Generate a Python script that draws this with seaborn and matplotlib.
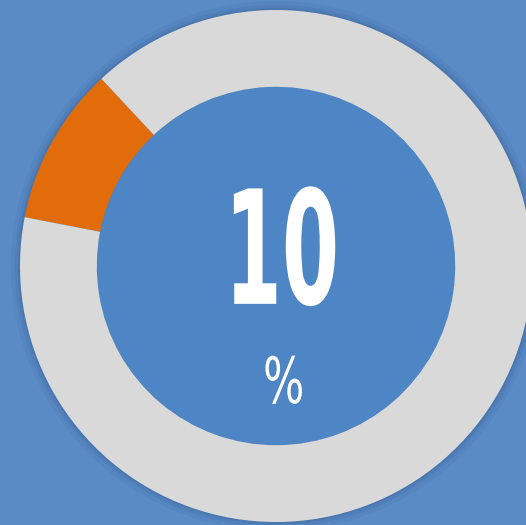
import matplotlib
matplotlib.use("Agg")
import matplotlib.pyplot as plt
import matplotlib.patheffects as pe
from matplotlib.transforms import Affine2D
import seaborn as sns
from matplotlib.patches import Circle

# Values shown in the donut
labels = ["Share", "Rest"]
values = [10, 90]
colors = ["#e36c0a", "#d9d9d9"]
center_label = "10"
unit_label = "%"


# squeeze glyphs horizontally around a given x (display coords) to get a condensed look
class Squeeze(pe.AbstractPathEffect):
    def __init__(self, sx, cx):
        super().__init__()
        self.sx = sx
        self.cx = cx

    def draw_path(self, renderer, gc, tpath, affine, rgbFace=None):
        tr = affine + Affine2D().translate(-self.cx, 0).scale(self.sx, 1).translate(self.cx, 0)
        renderer.draw_path(gc, tpath, tr, rgbFace)


sns.set_theme(style="white")
plt.rcParams['font.family'] = ['DejaVu Sans']

bg = "#5a8bc6"
fig = plt.figure(figsize=(5.26, 5.25), dpi=100, facecolor=bg)
ax = fig.add_axes([0, 0, 1, 1])
ax.set_facecolor(bg)
ax.set_aspect("equal")
ax.axis("off")

# soft shadow around the ring
for r, a in [(1.035, 0.07), (1.02, 0.11), (1.008, 0.16)]:
    ax.add_patch(Circle((0, 0), r, color="#2c4f80", alpha=a, lw=0, zorder=0))

ax.pie(values, colors=colors, startangle=133, counterclock=True, radius=1,
       wedgeprops=dict(width=0.3, edgecolor="none", linewidth=0, zorder=1))

# inner disk, a bit deeper blue
ax.add_patch(Circle((0, 0), 0.70, color="#4e86c5", lw=0, zorder=0.5))

ax.set_xlim(-276 / 256, 250 / 256)
ax.set_ylim(-259 / 256, 266 / 256)

x_big, y_big = 0.023, 0.024
x_pct, y_pct = 0.03, -0.465
cx_big = ax.transData.transform((x_big, y_big))[0]
cx_pct = ax.transData.transform((x_pct, y_pct))[0]

ax.text(x_big, y_big, center_label, color="white", fontsize=114, fontweight="bold",
        ha="center", va="center", zorder=3,
        path_effects=[Squeeze(0.52, cx_big)])
ax.text(x_pct, y_pct, unit_label, color="white", fontsize=46,
        ha="center", va="center", zorder=3,
        path_effects=[Squeeze(0.68, cx_pct)])

plt.savefig("out.png", dpi=100, facecolor=bg)
